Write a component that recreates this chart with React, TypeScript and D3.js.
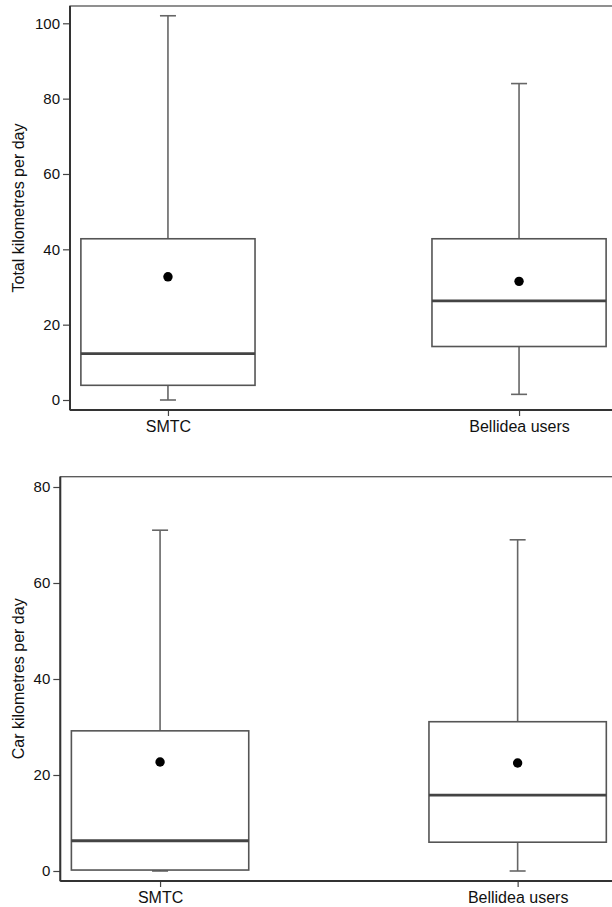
import { useRef, useEffect } from 'react'
import * as d3 from 'd3'

const groups = ['SMTC', 'Bellidea users']

// Total kilometres per day
const totalLow = [0, 1.5]
const totalQ1 = [3.9, 14.2]
const totalMedian = [12.3, 26.3]
const totalQ3 = [42.8, 42.8]
const totalHigh = [102, 84]
const totalMean = [32.7, 31.5]
const totalTicks = [0, 20, 40, 60, 80, 100]

// Car kilometres per day
const carLow = [0, 0]
const carQ1 = [0.2, 6.0]
const carMedian = [6.3, 15.8]
const carQ3 = [29.2, 31.1]
const carHigh = [71, 69]
const carMean = [22.7, 22.5]
const carTicks = [0, 20, 40, 60, 80]

const FONT = "'Liberation Sans', Arial, Helvetica, sans-serif"

type Panel = {
  title: string
  low: number[]
  q1: number[]
  median: number[]
  q3: number[]
  high: number[]
  mean: number[]
  ticks: number[]
  domain: [number, number]
  left: number
  right: number
  top: number
  bottom: number
  y0: number
  y1: number
}

const panels: Panel[] = [
  {
    title: 'Total kilometres per day',
    low: totalLow, q1: totalQ1, median: totalMedian, q3: totalQ3, high: totalHigh, mean: totalMean,
    ticks: totalTicks, domain: [0, 100],
    left: 70, right: 617, top: 6, bottom: 410, y0: 400, y1: 23.3,
  },
  {
    title: 'Car kilometres per day',
    low: carLow, q1: carQ1, median: carMedian, q3: carQ3, high: carHigh, mean: carMean,
    ticks: carTicks, domain: [0, 80],
    left: 60.3, right: 617.4, top: 476.7, bottom: 881, y0: 871, y1: 487,
  },
]

export default function App() {
  const svgRef = useRef<SVGSVGElement>(null)

  useEffect(() => {
    if (!svgRef.current) return
    const svg = d3.select(svgRef.current)
    svg.selectAll('*').remove()

    panels.forEach((p) => {
      const g = svg.append('g')
      const x = d3.scalePoint<string>().domain(groups).range([p.left, p.right]).padding(0.279)
      const y = d3.scaleLinear().domain(p.domain).range([p.y0, p.y1])
      const half = x.step() * 0.248
      const cap = 8

      // frame
      g.append('rect')
        .attr('x', p.left)
        .attr('y', p.top)
        .attr('width', p.right - p.left)
        .attr('height', p.bottom - p.top)
        .attr('fill', 'none')
        .attr('stroke', '#555')
        .attr('stroke-width', 1.3)

      // y axis
      const ya = g.append('g')
        .attr('transform', `translate(${p.left},0)`)
        .call(d3.axisLeft(y).tickValues(p.ticks).tickSize(7).tickPadding(3).tickFormat(d3.format('d')))
      ya.select('.domain').remove()
      ya.selectAll('line').attr('stroke', '#444').attr('stroke-width', 1.2)
      ya.selectAll('text').attr('fill', '#111').attr('font-size', 15).attr('font-family', FONT)
      g.append('line')
        .attr('x1', p.left).attr('x2', p.left)
        .attr('y1', p.top).attr('y2', p.bottom)
        .attr('stroke', '#333').attr('stroke-width', 2)

      // x axis
      const xa = g.append('g')
        .attr('transform', `translate(0,${p.bottom})`)
        .call(d3.axisBottom(x).tickSize(6).tickPadding(5))
      xa.select('.domain').remove()
      xa.selectAll('line').attr('stroke', '#444').attr('stroke-width', 1.2)
      xa.selectAll('text').attr('fill', '#111').attr('font-size', 16).attr('font-family', FONT)
      g.append('line')
        .attr('x1', p.left).attr('x2', p.right)
        .attr('y1', p.bottom).attr('y2', p.bottom)
        .attr('stroke', '#333').attr('stroke-width', 2)

      // axis title
      g.append('text')
        .attr('transform', `translate(24,${(p.top + p.bottom) / 2}) rotate(-90)`)
        .attr('text-anchor', 'middle')
        .attr('font-size', 16)
        .attr('font-family', FONT)
        .attr('fill', '#111')
        .text(p.title)

      const idx = groups.map((_, i) => i)
      const box = g.selectAll('.box').data(idx).join('g')

      // whiskers
      box.append('line')
        .attr('x1', (i) => x(groups[i])!).attr('x2', (i) => x(groups[i])!)
        .attr('y1', (i) => y(p.q3[i])).attr('y2', (i) => y(p.high[i]))
        .attr('stroke', '#666').attr('stroke-width', 1.6)
      box.append('line')
        .attr('x1', (i) => x(groups[i])!).attr('x2', (i) => x(groups[i])!)
        .attr('y1', (i) => y(p.q1[i])).attr('y2', (i) => y(p.low[i]))
        .attr('stroke', '#666').attr('stroke-width', 1.6)
      box.append('line')
        .attr('x1', (i) => x(groups[i])! - cap).attr('x2', (i) => x(groups[i])! + cap)
        .attr('y1', (i) => y(p.high[i])).attr('y2', (i) => y(p.high[i]))
        .attr('stroke', '#666').attr('stroke-width', 1.6)
      box.append('line')
        .attr('x1', (i) => x(groups[i])! - cap).attr('x2', (i) => x(groups[i])! + cap)
        .attr('y1', (i) => y(p.low[i])).attr('y2', (i) => y(p.low[i]))
        .attr('stroke', '#666').attr('stroke-width', 1.6)

      // box
      box.append('rect')
        .attr('x', (i) => x(groups[i])! - half)
        .attr('width', half * 2)
        .attr('y', (i) => y(p.q3[i]))
        .attr('height', (i) => y(p.q1[i]) - y(p.q3[i]))
        .attr('fill', 'none')
        .attr('stroke', '#555')
        .attr('stroke-width', 1.6)

      // median
      box.append('line')
        .attr('x1', (i) => x(groups[i])! - half).attr('x2', (i) => x(groups[i])! + half)
        .attr('y1', (i) => y(p.median[i])).attr('y2', (i) => y(p.median[i]))
        .attr('stroke', '#444').attr('stroke-width', 2.8)

      // mean
      box.append('circle')
        .attr('cx', (i) => x(groups[i])!)
        .attr('cy', (i) => y(p.mean[i]))
        .attr('r', 4.7)
        .attr('fill', '#000')
    })
  }, [])

  return (
    <svg
      ref={svgRef}
      width={612}
      height={907}
      style={{ position: 'absolute', left: 0, top: 0, background: '#fff' }}
    />
  )
}
